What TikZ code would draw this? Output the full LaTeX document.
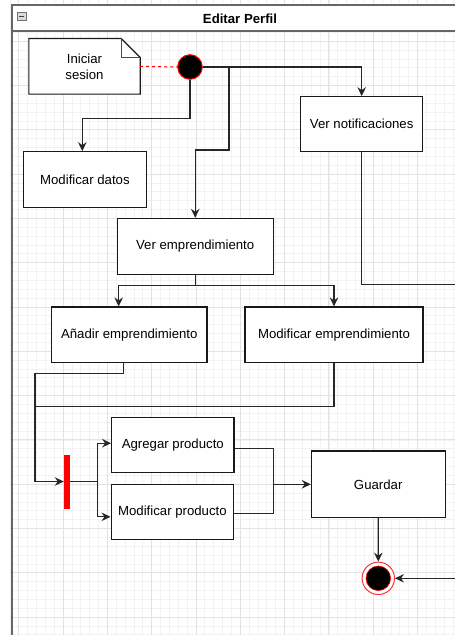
\documentclass[tikz,border=0pt]{standalone}
\usepackage{fontspec}
\setmainfont{Liberation Sans}
\usetikzlibrary{arrows.meta}

\tikzset{
  gridminor/.style={draw=black!5, line width=0.6pt},
  gridmajor/.style={draw=black!11, line width=0.8pt},
  frameline/.style={draw=black!60, line width=1.3pt},
  activity/.style={draw=black!90, line width=1.1pt, fill=white, rectangle,
    font=\fontsize{13.2}{15}\selectfont, inner sep=0pt},
  conn/.style={draw=black!85, line width=1.1pt},
  arr/.style={conn, -{Stealth[length=9pt,width=8.5pt,inset=3pt]}},
  startnode/.style={circle, fill=black, draw=red, line width=1pt,
    minimum size=24.6pt, inner sep=0pt},
  endouter/.style={circle, fill=white, draw=red!80, line width=1pt,
    minimum size=32.4pt, inner sep=0pt},
  endinner/.style={circle, fill=black, draw=red, line width=0.6pt,
    minimum size=24.6pt, inner sep=0pt},
  forkbar/.style={rectangle, fill=red, draw=none, minimum width=6pt,
    minimum height=54pt, inner sep=0pt},
}

\begin{document}
\begin{tikzpicture}[x=1pt,y=-1pt]
\useasboundingbox (0,0) rectangle (455,635);
\clip (0,0) rectangle (455,635);

% background grid
\foreach \i in {0,...,51} {
  \draw[gridminor] ({9.84+8.86*\i},0) -- ({9.84+8.86*\i},635);
}
\foreach \j in {0,...,72} {
  \draw[gridminor] (9.84,{-3.2+8.86*\j}) -- (455,{-3.2+8.86*\j});
}
\foreach \i in {0,...,10} {
  \draw[gridmajor] ({18.7+44.3*\i},0) -- ({18.7+44.3*\i},635);
}
\foreach \j in {0,...,14} {
  \draw[gridmajor] (9.84,{-3.2+44.3*\j}) -- (455,{-3.2+44.3*\j});
}

% swimlane frame with header
\fill[white] (12,5) rectangle (470,31);
\draw[frameline] (12,650) -- (12,5) -- (470,5);
\draw[frameline] (12,31) -- (470,31);
\node[draw=black!55, fill=black!15, line width=0.6pt, minimum size=8.5pt,
      inner sep=0pt] (collapse) at (21.8,16.5) {};
\draw[black!75, line width=1pt] ([xshift=-2.6pt]collapse.center) -- ([xshift=2.6pt]collapse.center);
\node[font=\bfseries\fontsize{13.2}{15}\selectfont] (title) at (240,18.3) {Editar Perfil};

% note
\node[minimum width=111pt, minimum height=55.3pt, inner sep=0pt] (note) at (84.5,66.3) {};
\draw[black!90, line width=1.1pt, fill=white]
  (note.south west) -- (note.north west) -- ([xshift=-19pt]note.north east)
  -- ([yshift=-19pt]note.north east) -- (note.south east) -- cycle;
\draw[black!70, line width=1.1pt]
  ([xshift=-19pt]note.north east) |- ([yshift=-19pt]note.north east);
\node[align=center, font=\fontsize{13.2}{16}\selectfont] (notetext) at (note.center) {Iniciar\\sesion};

% initial and final states
\node[startnode] (start) at (190,67) {};
\node[endouter] (final) at (378.3,578.3) {};
\node[endinner] (finalin) at (final.center) {};

% activities
\node[activity, minimum width=122.3pt, minimum height=55.6pt] (datos) at (84.9,179.5) {Modificar datos};
\node[activity, minimum width=155.7pt, minimum height=55.7pt] (veremp) at (195.2,246.2) {Ver emprendimiento};
\node[activity, minimum width=122pt, minimum height=55pt] (vernot) at (361.7,124.2) {Ver notificaciones};
\node[activity, minimum width=155.3pt, minimum height=55.3pt] (anadir) at (129.3,334.6) {Añadir emprendimiento};
\node[activity, minimum width=178pt, minimum height=55.3pt] (modemp) at (334,334.6) {Modificar emprendimiento};
\node[activity, minimum width=122.3pt, minimum height=55pt] (agregar) at (172.8,445.2) {Agregar producto};
\node[activity, minimum width=122.7pt, minimum height=55pt] (modprod) at (172.4,511.8) {Modificar producto};
\node[activity, minimum width=133.7pt, minimum height=66.7pt] (guardar) at (378.2,484.3) {Guardar};

% fork bar
\node[forkbar] (bar) at (67,481.5) {};

% connectors
\draw[red, line width=1pt, dashed, dash pattern=on 3pt off 3pt] (note.east) -- (start.west);
\draw[arr] (start.east) -| (vernot.north);
\coordinate (split1) at (229,67);
\draw[arr] (split1) -- (229,150) -| (veremp.north);
\draw[arr] (start.south) -- ++(0,39) -| ([xshift=-2.6pt]datos.north);
\draw[arr] (vernot.south) |- (470,284.7) |- (final.east);

\draw[conn] (veremp.south) -- ++(0,10.5) coordinate (split2);
\draw[arr] (split2) -| ([xshift=-10.6pt]anadir.north);
\draw[arr] (split2) -| (modemp.north);

\draw[arr] ([xshift=-6pt]anadir.south) |- (35,373.3) |- (bar.west);
\draw[conn] (modemp.south) |- (35,406.7);

\draw[conn] (bar.east) -- (97.7,481.5) coordinate (split3);
\draw[arr] (split3) |- ([yshift=2pt]agregar.west);
\draw[arr] (split3) |- ([yshift=-5pt]modprod.west);

\coordinate (join) at (273.3,484.3);
\draw[conn] ([yshift=-3pt]agregar.east) -| (join);
\draw[conn] ([yshift=-1.5pt]modprod.east) -| (join);
\draw[arr] (join) -- (guardar.west);
\draw[arr] (guardar.south) -- (final.north);
\end{tikzpicture}
\end{document}
